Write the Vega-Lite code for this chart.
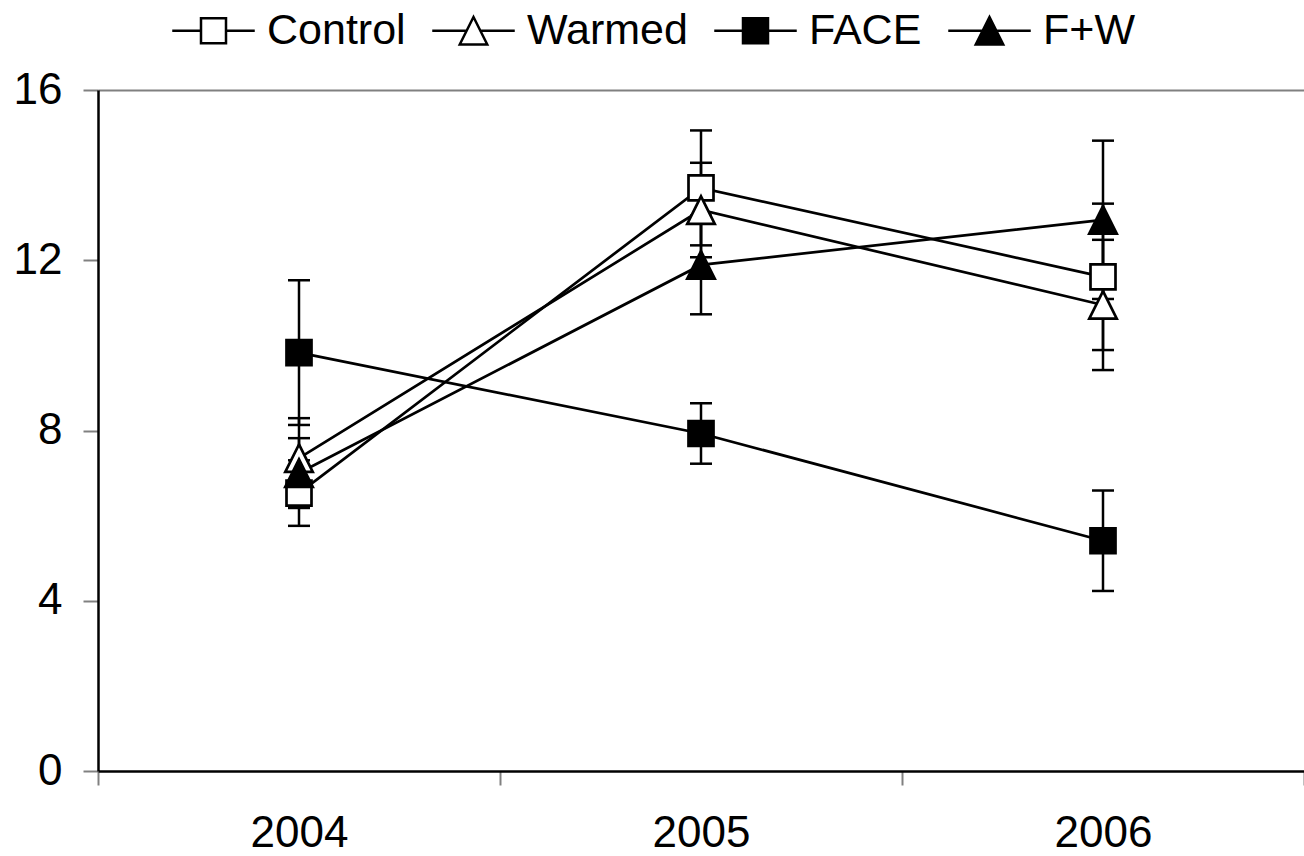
{
  "$schema": "https://vega.github.io/schema/vega-lite/v6.json",
  "width": 1206,
  "height": 681,
  "autosize": "none",
  "padding": {"left": 98, "top": 90, "right": 0, "bottom": 85},
  "background": "white",
  "config": {
    "view": {"stroke": null},
    "font": "Liberation Sans",
    "legend": {
      "orient": "none",
      "legendX": 94,
      "legendY": -81,
      "direction": "horizontal",
      "padding": 0,
      "labelFontSize": 43,
      "labelFont": "Liberation Sans",
      "labelColor": "black",
      "labelLimit": 0,
      "symbolSize": 625,
      "symbolStrokeWidth": 2.5,
      "columnPadding": 21,
      "symbolOffset": 0,
      "labelOffset": 32
    }
  },
  "data": {
    "values": [
      {"series": "Control", "year": "2004", "mean": 6.53, "se": 0.77},
      {"series": "Control", "year": "2005", "mean": 13.7, "se": 1.35},
      {"series": "Control", "year": "2006", "mean": 11.61, "se": 1.72},
      {"series": "Warmed", "year": "2004", "mean": 7.35, "se": 0.94},
      {"series": "Warmed", "year": "2005", "mean": 13.18, "se": 1.11},
      {"series": "Warmed", "year": "2006", "mean": 10.95, "se": 1.53},
      {"series": "FACE", "year": "2004", "mean": 9.83, "se": 1.7},
      {"series": "FACE", "year": "2005", "mean": 7.93, "se": 0.71},
      {"series": "FACE", "year": "2006", "mean": 5.41, "se": 1.18},
      {"series": "F+W", "year": "2004", "mean": 7.0, "se": 0.82},
      {"series": "F+W", "year": "2005", "mean": 11.89, "se": 1.16},
      {"series": "F+W", "year": "2006", "mean": 12.95, "se": 1.86}
    ]
  },
  "encoding": {
    "x": {
      "field": "year",
      "type": "ordinal",
      "scale": {"paddingInner": 0, "paddingOuter": 0},
      "axis": {
        "title": null,
        "labelAngle": 0,
        "tickBand": "extent",
        "domainColor": "black",
        "domainWidth": 2.5,
        "tickColor": "#808080",
        "tickWidth": 2,
        "tickSize": 14,
        "labelFontSize": 44,
        "labelFont": "Liberation Sans",
        "labelColor": "black",
        "labelPadding": 26,
        "grid": false
      }
    },
    "y": {
      "field": "mean",
      "type": "quantitative",
      "scale": {"domain": [0, 16], "nice": false},
      "axis": {
        "title": null,
        "values": [0, 4, 8, 12, 16],
        "domainColor": "black",
        "domainWidth": 2.5,
        "tickColor": "#808080",
        "tickWidth": 2,
        "tickSize": 15,
        "labelFontSize": 44,
        "labelFont": "Liberation Sans",
        "labelColor": "black",
        "labelPadding": 21,
        "grid": true,
        "gridColor": "#808080",
        "gridWidth": 2,
        "gridOpacity": {"condition": {"test": "datum.value === 16", "value": 1}, "value": 0}
      }
    }
  },
  "layer": [
    {
      "mark": {
        "type": "errorbar",
        "color": "black",
        "thickness": 2.5,
        "ticks": {"size": 22, "thickness": 2.5, "color": "black", "opacity": 1}
      },
      "encoding": {
        "yError": {"field": "se"},
        "detail": {"field": "series"}
      }
    },
    {
      "mark": {"type": "line", "color": "black", "strokeWidth": 2.7},
      "encoding": {
        "detail": {"field": "series"}
      }
    },
    {
      "transform": [{"filter": "datum.series === 'Control'"}],
      "mark": {"type": "point", "filled": true, "fill": "white", "stroke": "black", "strokeWidth": 2.7, "size": 625, "opacity": 1, "shape": "M-1,-1H1V1H-1Z"}
    },
    {
      "transform": [{"filter": "datum.series === 'Warmed'"}],
      "mark": {"type": "point", "filled": true, "fill": "white", "stroke": "black", "strokeWidth": 2.7, "size": 625, "opacity": 1, "shape": "M0,-1.1L1.1,1.1H-1.1Z"}
    },
    {
      "transform": [{"filter": "datum.series === 'FACE'"}],
      "mark": {"type": "point", "filled": true, "fill": "black", "stroke": "black", "strokeWidth": 2.7, "size": 625, "opacity": 1, "shape": "M-1,-1H1V1H-1Z"}
    },
    {
      "transform": [{"filter": "datum.series === 'F+W'"}],
      "mark": {"type": "point", "filled": true, "fill": "black", "stroke": "black", "strokeWidth": 2.7, "size": 625, "opacity": 1, "shape": "M0,-1.1L1.1,1.1H-1.1Z"}
    },
    {
      "transform": [{"filter": "datum.mean < 0"}],
      "mark": {"type": "point", "filled": true, "strokeWidth": 2.5, "size": 625, "opacity": 1},
      "encoding": {
        "shape": {
          "field": "series",
          "type": "nominal",
          "scale": {
            "domain": ["Control", "Warmed", "FACE", "F+W"],
            "range": ["M-3.3,0H-1M1,0H3.3M-1,-1H1V1H-1Z", "M-3.3,0H-0.55M0.55,0H3.3M0,-1.1L1.1,1.1H-1.1Z", "M-3.3,0H-1M1,0H3.3M-1,-1H1V1H-1Z", "M-3.3,0H-0.55M0.55,0H3.3M0,-1.1L1.1,1.1H-1.1Z"]
          },
          "legend": {"title": null}
        },
        "fill": {
          "field": "series",
          "type": "nominal",
          "scale": {
            "domain": ["Control", "Warmed", "FACE", "F+W"],
            "range": ["white", "white", "black", "black"]
          },
          "legend": {"title": null}
        },
        "stroke": {
          "field": "series",
          "type": "nominal",
          "scale": {
            "domain": ["Control", "Warmed", "FACE", "F+W"],
            "range": ["black", "black", "black", "black"]
          },
          "legend": {"title": null}
        }
      }
    }
  ]
}
